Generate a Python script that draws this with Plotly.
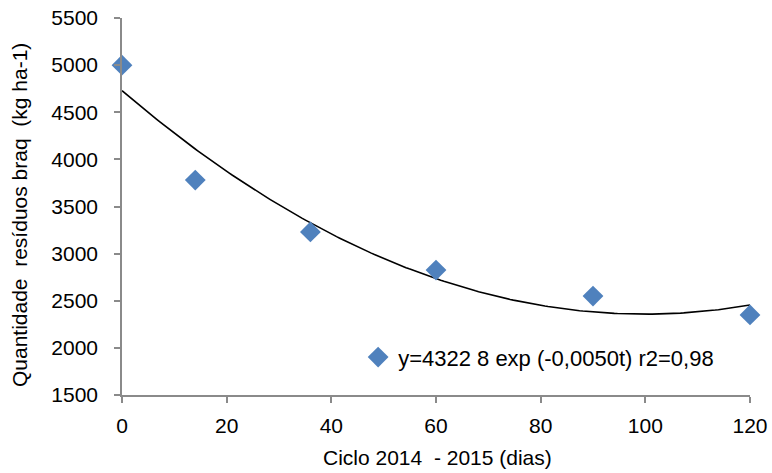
import numpy as np
import plotly.graph_objects as go

dias = [0, 14, 36, 60, 90, 120]
residuos = [5000, 3780, 3230, 2825, 2550, 2350]
legend_label = "y=4322 8 exp (-0,0050t) r2=0,98"
x_title = "Ciclo 2014 \u00a0- 2015 (dias)"
y_title = "Quantidade \u00a0resíduos braq \u00a0(kg ha-1)"
x_ticks = [0, 20, 40, 60, 80, 100, 120]
y_ticks = [1500, 2000, 2500, 3000, 3500, 4000, 4500, 5000, 5500]

coef = np.polyfit(dias, residuos, 2)
xt = np.linspace(0, 120, 200)
yt = np.polyval(coef, xt)

fig = go.Figure()
fig.add_trace(go.Scatter(x=xt, y=yt, mode="lines", line=dict(color="black", width=1.6),
                         showlegend=False, hoverinfo="skip", cliponaxis=False))
fig.add_trace(go.Scatter(x=dias, y=residuos, mode="markers", name=legend_label,
                         marker=dict(symbol="diamond", color="#4F81BD", size=16),
                         cliponaxis=False))

font = dict(family="Liberation Sans, Arial, sans-serif", size=21, color="black")
axis_common = dict(showgrid=False, zeroline=False, showline=True, linecolor="#8A8A8A",
                   linewidth=1.5, ticks="outside", ticklen=6, tickcolor="#8A8A8A",
                   tickwidth=1.5, automargin=False, tickfont=dict(size=21))
fig.update_layout(
    width=772, height=473,
    margin=dict(l=122, r=22, t=18, b=78),
    plot_bgcolor="white", paper_bgcolor="white",
    font=font,
    legend=dict(x=0.376, y=0.10, xanchor="left", yanchor="middle",
                bgcolor="rgba(0,0,0,0)", font=dict(size=22), itemwidth=30),
    xaxis=dict(range=[0, 120], tickvals=x_ticks, ticklabelstandoff=5, **axis_common),
    yaxis=dict(range=[1500, 5500], tickvals=y_ticks, ticklabelstandoff=12, **axis_common),
    annotations=[
        dict(text=x_title, xref="paper", yref="paper", x=0.503, y=-0.167,
             xanchor="center", yanchor="middle", showarrow=False, font=dict(size=21)),
        dict(text=y_title, xref="paper", yref="paper", x=-0.162, y=0.478, textangle=-90,
             xanchor="center", yanchor="middle", showarrow=False, font=dict(size=21)),
    ],
)
fig.write_html("out.html", config={"displayModeBar": False},
               post_script="document.body.style.margin='0';")
